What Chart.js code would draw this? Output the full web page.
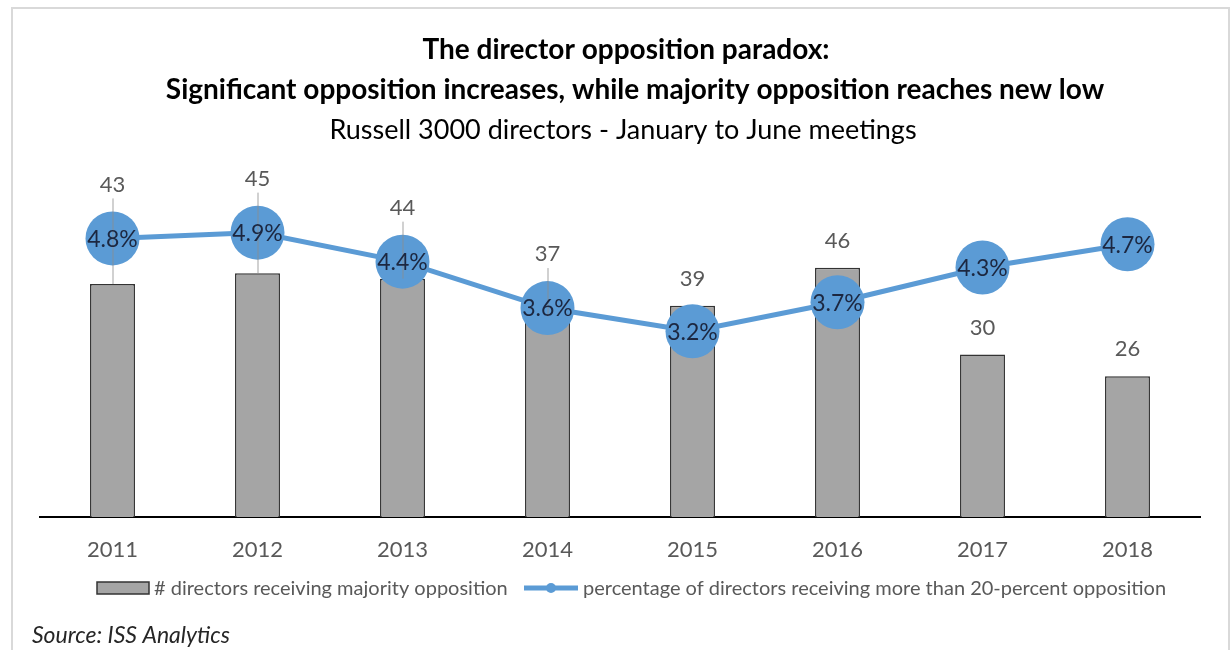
<!DOCTYPE html>
<html>
<head>
<meta charset="utf-8">
<script src="https://cdn.jsdelivr.net/npm/chart.js@4"></script>
<style>
  html, body { margin: 0; padding: 0; background: #fff; }
  canvas { display: block; }
</style>
</head>
<body>
<canvas id="chart" width="1232" height="650"></canvas>
<script>
const years = ['2011', '2012', '2013', '2014', '2015', '2016', '2017', '2018'];
const majorityOpposition = [43, 45, 44, 37, 39, 46, 30, 26];
const pctOver20 = [4.8, 4.9, 4.4, 3.6, 3.2, 3.7, 4.3, 4.7];

const titleLines = [
    'The director opposition paradox:',
    'Significant opposition increases, while majority opposition reaches new low'
];
const subtitle = 'Russell 3000 directors - January to June meetings';
const barLabel = '# directors receiving majority opposition';
const lineLabel = 'percentage of directors receiving more than 20-percent opposition';
const sourceText = 'Source: ISS Analytics';

const FONT = 'Lato, "Open Sans", sans-serif';
const BLUE = '#5b9bd5';
const GREY_TEXT = '#595959';
const POINT_R = 27;

// titles, legend, frame and source line
const decorations = {
    id: 'decorations',
    afterDraw(chart) {
        const ctx = chart.ctx;
        ctx.save();
        ctx.strokeStyle = '#d9d9d9';
        ctx.lineWidth = 2;
        ctx.strokeRect(12, 8, 1217, 660);

        ctx.textAlign = 'center';
        ctx.textBaseline = 'middle';
        ctx.fillStyle = '#000';
        ctx.font = 'bold 28px ' + FONT;
        ctx.fillText(titleLines[0], 626, 50);
        ctx.fillText(titleLines[1], 635, 90);
        ctx.font = '27px ' + FONT;
        ctx.fillText(subtitle, 623, 130);

        // legend
        ctx.textAlign = 'left';
        ctx.fillStyle = '#a5a5a5';
        ctx.fillRect(97, 582, 52, 12);
        ctx.strokeStyle = '#333';
        ctx.lineWidth = 1.5;
        ctx.strokeRect(97, 582, 52, 12);
        ctx.font = '20px ' + FONT;
        ctx.fillStyle = GREY_TEXT;
        ctx.fillText(barLabel, 154, 589);

        ctx.strokeStyle = BLUE;
        ctx.lineWidth = 5;
        ctx.beginPath();
        ctx.moveTo(524, 588);
        ctx.lineTo(578, 588);
        ctx.stroke();
        ctx.fillStyle = BLUE;
        ctx.beginPath();
        ctx.arc(551, 588, 5, 0, Math.PI * 2);
        ctx.fill();
        ctx.fillStyle = GREY_TEXT;
        ctx.fillText(lineLabel, 583, 589);

        ctx.font = 'italic 23px ' + FONT;
        ctx.fillStyle = '#262626';
        ctx.fillText(sourceText, 32, 636);
        ctx.restore();
    }
};

// value labels: bar counts above bars (lifted over the circle if they collide), percentages in circles
const valueLabels = {
    id: 'valueLabels',
    afterDatasetsDraw(chart) {
        const ctx = chart.ctx;
        const bars = chart.getDatasetMeta(0).data;
        const points = chart.getDatasetMeta(1).data;
        ctx.save();
        ctx.textAlign = 'center';
        ctx.textBaseline = 'middle';
        bars.forEach((bar, i) => {
            const pt = points[i];
            let y = bar.y - 27;
            const hits = y + 11 > pt.y - POINT_R && y - 11 < pt.y + POINT_R;
            if (hits) {
                y = pt.y - POINT_R - 27;
                ctx.strokeStyle = 'rgba(140,140,140,0.8)';
                ctx.lineWidth = 1;
                ctx.beginPath();
                ctx.moveTo(bar.x + 0.5, y + 14);
                ctx.lineTo(bar.x + 0.5, bar.y);
                ctx.stroke();
            }
            ctx.font = '22px ' + FONT;
            ctx.fillStyle = GREY_TEXT;
            ctx.fillText(String(majorityOpposition[i]), bar.x, y);
        });
        points.forEach((pt, i) => {
            ctx.font = '23px ' + FONT;
            ctx.fillStyle = '#1c2740';
            ctx.fillText(pctOver20[i].toFixed(1) + '%', pt.x, pt.y + 1);
        });
        ctx.restore();
    }
};

new Chart(document.getElementById('chart').getContext('2d'), {
    type: 'bar',
    data: {
        labels: years,
        datasets: [{
            type: 'bar',
            label: barLabel,
            data: majorityOpposition,
            yAxisID: 'y',
            backgroundColor: '#a5a5a5',
            borderColor: '#333',
            borderWidth: 1.5,
            categoryPercentage: 1,
            barPercentage: 0.31,
            order: 2
        }, {
            type: 'line',
            label: lineLabel,
            data: pctOver20,
            yAxisID: 'y1',
            borderColor: BLUE,
            borderWidth: 5,
            pointRadius: POINT_R,
            pointHoverRadius: POINT_R,
            pointBackgroundColor: BLUE,
            pointBorderWidth: 0,
            tension: 0,
            order: 1
        }]
    },
    options: {
        responsive: false,
        animation: false,
        layout: { padding: { top: 192, left: 40, right: 32, bottom: 0 } },
        plugins: {
            legend: { display: false },
            tooltip: { enabled: false }
        },
        scales: {
            x: {
                offset: true,
                grid: { display: false, drawTicks: false },
                border: { display: true, color: '#000', width: 2 },
                ticks: { color: GREY_TEXT, font: { family: FONT, size: 22 }, padding: 20 },
                afterFit: s => { s.height = 133; }
            },
            y: { display: false, min: 0, max: 60 },
            y1: { display: false, position: 'right', min: 0, max: 5.6 }
        }
    },
    plugins: [valueLabels, decorations]
});
</script>
</body>
</html>
